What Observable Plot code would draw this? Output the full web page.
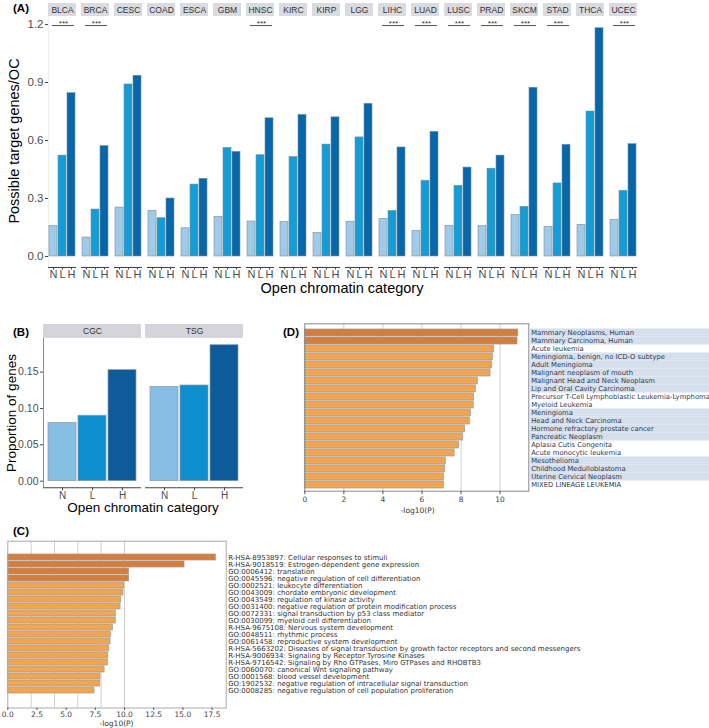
<!DOCTYPE html>
<html><head><meta charset="utf-8">
<script src="https://cdn.jsdelivr.net/npm/d3@7"></script>
<script src="https://cdn.jsdelivr.net/npm/@observablehq/plot@0.6"></script>
<style>
body{margin:0;background:#fff;}
#root{position:relative;width:709px;height:728px;overflow:hidden;background:#fff;font-family:"Liberation Sans",Arial,sans-serif;color:#000;}
.panel{position:absolute;}
.t{position:absolute;white-space:nowrap;transform:translate(-50%,-50%);line-height:1;}
.rot{transform:translate(-50%,-50%) rotate(-90deg);}
.tag{position:absolute;font-weight:bold;font-size:11.5px;line-height:1;white-space:nowrap;}
.mpl{font-family:"DejaVu Sans",sans-serif;font-size:7.5px;color:#333;}
</style></head><body><div id="root"></div>
<script>
// ---------- Panel A data ----------
const cancers = ["BLCA","BRCA","CESC","COAD","ESCA","GBM","HNSC","KIRC","KIRP","LGG","LIHC","LUAD","LUSC","PRAD","SKCM","STAD","THCA","UCEC"];
const categories = ["N","L","H"];
const ratioN = [0.157,0.098,0.253,0.236,0.146,0.205,0.181,0.178,0.122,0.180,0.195,0.133,0.159,0.157,0.214,0.153,0.164,0.190];
const ratioL = [0.522,0.243,0.890,0.198,0.372,0.562,0.524,0.514,0.579,0.616,0.236,0.392,0.366,0.454,0.257,0.378,0.750,0.340];
const ratioH = [0.845,0.571,0.935,0.300,0.402,0.541,0.715,0.733,0.720,0.790,0.564,0.645,0.460,0.522,0.873,0.578,1.181,0.581];
const significant = ["BLCA","BRCA","HNSC","LIHC","LUAD","LUSC","PRAD","SKCM","STAD","UCEC"];
const yTicksA = [0,0.3,0.6,0.9,1.2];

// ---------- Panel B data ----------
const geneSets = ["CGC","TSG"];
const propN = [0.080,0.1298];
const propL = [0.090,0.1316];
const propH = [0.1527,0.187];
const yTicksB = [0,0.05,0.10,0.15];

// ---------- Panel D data ----------
const dTerms = ["Mammary Neoplasms, Human","Mammary Carcinoma, Human","Acute leukemia","Meningioma, benign, no ICD-O subtype","Adult Meningioma","Malignant neoplasm of mouth","Malignant Head and Neck Neoplasm","Lip and Oral Cavity Carcinoma","Precursor T-Cell Lymphoblastic Leukemia-Lymphoma","Myeloid Leukemia","Meningioma","Head and Neck Carcinoma","Hormone refractory prostate cancer","Pancreatic Neoplasm","Aplasia Cutis Congenita","Acute monocytic leukemia","Mesothelioma","Childhood Medulloblastoma","Uterine Cervical Neoplasm","MIXED LINEAGE LEUKEMIA"];
const dLogP = [10.93,10.89,9.70,9.63,9.59,9.51,8.86,8.76,8.67,8.65,8.50,8.45,8.21,8.11,7.90,7.67,7.22,7.19,7.12,7.12];
const dCluster = [1,1,2,3,3,3,3,3,4,4,5,5,5,5,6,6,7,7,7,8];
const dTicks = [0,2,4,6,8,10];

// ---------- Panel C data ----------
const cTerms = ["R-HSA-8953897: Cellular responses to stimuli","R-HSA-9018519: Estrogen-dependent gene expression","GO:0006412: translation","GO:0045596: negative regulation of cell differentiation","GO:0002521: leukocyte differentiation","GO:0043009: chordate embryonic development","GO:0043549: regulation of kinase activity","GO:0031400: negative regulation of protein modification process","GO:0072331: signal transduction by p53 class mediator","GO:0030099: myeloid cell differentiation","R-HSA-9675108: Nervous system development","GO:0048511: rhythmic process","GO:0061458: reproductive system development","R-HSA-5663202: Diseases of signal transduction by growth factor receptors and second messengers","R-HSA-9006934: Signaling by Receptor Tyrosine Kinases","R-HSA-9716542: Signaling by Rho GTPases, Miro GTPases and RHOBTB3","GO:0060070: canonical Wnt signaling pathway","GO:0001568: blood vessel development","GO:1902532: negative regulation of intracellular signal transduction","GO:0008285: negative regulation of cell population proliferation"];
const cLogP = [17.82,15.14,10.40,10.40,9.97,9.91,9.72,9.66,9.25,9.25,9.00,8.83,8.80,8.69,8.60,8.57,8.29,7.94,7.92,7.43];
const cTicks = [0,2.5,5,7.5,10,12.5,15,17.5];

// ---------- build ----------
const root = document.getElementById("root");
function place(node, left, top){ node.classList.add("panel"); node.style.left = left+"px"; node.style.top = top+"px"; root.appendChild(node); }
function label(text, x, y, cls, size){ const d=document.createElement("div"); d.className="t "+(cls||""); d.textContent=text; d.style.left=x+"px"; d.style.top=y+"px"; if(size) d.style.fontSize=size+"px"; root.appendChild(d); }
function tag(text, x, y){ const d=document.createElement("div"); d.className="tag"; d.textContent=text; d.style.left=x+"px"; d.style.top=y+"px"; root.appendChild(d); }
const ggFont = "Liberation Sans, Arial, sans-serif";
const mplFont = "DejaVu Sans, sans-serif";

// Panel A
const tableA = cancers.flatMap((c,i)=>categories.map((k,j)=>({cancer:c, cat:k, value:[ratioN,ratioL,ratioH][j][i]})));
const yDomA = [-0.057, 1.309];
const stripA = [1.2416, 1.309];
const fxBwA = 607/(18-0.147)*(1-0.147);
const plotA = Plot.plot({
  width: 709, height: 300, marginLeft: 39, marginRight: 63, marginTop: 3, marginBottom: 33,
  style: {fontFamily: ggFont, background: "transparent", overflow: "visible"},
  fx: {domain: cancers, paddingInner: 0.147, paddingOuter: 0, axis: null, label: null},
  x: {domain: categories, paddingInner: 0.07, paddingOuter: 0.05, label: null},
  y: {domain: yDomA, label: null},
  color: {domain: categories, range: ["#a0cbe8","#139dd6","#0667aa"]},
  marks: [
    Plot.barY(tableA, {fx: "cancer", x: "cat", y: "value", fill: "cat", stroke: "#7f8d97", strokeWidth: 0.6}),
    Plot.barY(cancers, {fx: d=>d, y1: ()=>stripA[0], y2: ()=>stripA[1], fill: "#d9dbe0"}),
    Plot.text(cancers, {fx: d=>d, y: ()=>(stripA[0]+stripA[1])/2, text: d=>d, fontSize: 8.5, fill: "#333"}),
    Plot.ruleY(significant, {fx: d=>d, y: ()=>1.195, insetLeft: 4, insetRight: 2, stroke: "#555", strokeWidth: 1}),
    Plot.text(significant, {fx: d=>d, y: ()=>1.208, text: ()=>"***", fontSize: 8, fill: "#333", dx: 1}),
    Plot.barY(["BLCA"], {fx: d=>d, y1: ()=>yDomA[0], y2: ()=>stripA[0], fill: "#444", insetRight: fxBwA-1.1}),
    Plot.ruleY([yDomA[0]], {stroke: "#444", strokeWidth: 1.1}),
    Plot.axisY({ticks: yTicksA, tickFormat: d3.format(".1f"), tickSize: 3, tickPadding: 2, fontSize: 11.5, fill: "#4d4d4d", stroke: "#444", label: null}),
    Plot.axisX({tickSize: 2.5, tickPadding: 0.5, fontSize: 11, fill: "#4d4d4d", stroke: "#444", label: null})
  ]
});
place(plotA, 0, 0);
tag("(A)", 13, 3);
label("Open chromatin category", 342, 288, "", 14.5);
label("Possible target genes/OC", 14, 141, "rot", 14.5);

// Panel B
const tableB = geneSets.flatMap((g,i)=>categories.map((k,j)=>({set:g, cat:k, value:[propN,propL,propH][j][i]})));
const yDomB = [-0.0091, 0.2155];
const stripB = [0.1963, 0.2155];
const fxBwB = 201/(2-0.039)*(1-0.039);
const plotB = Plot.plot({
  width: 260, height: 230, marginLeft: 43, marginRight: 16, marginTop: 24, marginBottom: 42.7,
  style: {fontFamily: ggFont, background: "transparent", overflow: "visible"},
  fx: {domain: geneSets, paddingInner: 0.039, paddingOuter: 0, axis: null, label: null},
  x: {domain: categories, paddingInner: 0.066, paddingOuter: 0.156, label: null},
  y: {domain: yDomB, label: null},
  color: {domain: categories, range: ["#86bee4","#0e8fd0","#0d5b9b"]},
  marks: [
    Plot.barY(tableB, {fx: "set", x: "cat", y: "value", fill: "cat", stroke: "#8a9aa6", strokeWidth: 0.7}),
    Plot.barY(geneSets, {fx: d=>d, y1: ()=>stripB[0], y2: ()=>stripB[1], fill: "#d4d5db"}),
    Plot.text(geneSets, {fx: d=>d, y: ()=>(stripB[0]+stripB[1])/2, text: d=>d, fontSize: 8.5, fill: "#333"}),
    Plot.barY(["CGC"], {fx: d=>d, y1: ()=>yDomB[0], y2: ()=>stripB[0], fill: "#444", insetRight: fxBwB-1.1}),
    Plot.ruleY([yDomB[0]], {stroke: "#444", strokeWidth: 1.1}),
    Plot.axisY({ticks: yTicksB, tickFormat: d3.format(".2f"), tickSize: 3, tickPadding: 2, fontSize: 10.5, fill: "#4d4d4d", stroke: "#444", label: null}),
    Plot.axisX({tickSize: 3, tickPadding: 1, fontSize: 10, fill: "#4d4d4d", stroke: "#444", label: null})
  ]
});
place(plotB, 0, 300);
tag("(B)", 13, 327);
label("Open chromatin category", 143, 508, "", 13.5);
label("Proportion of genes", 12, 413, "rot", 13.5);

// Panel D
const tableD = dTerms.map((t,i)=>({term:t, value:dLogP[i], cluster:dCluster[i], rank:i}));
const xMaxD = 11.47;
const plotD = Plot.plot({
  width: 429, height: 220, marginLeft: 24.3, marginRight: 180.7, marginTop: 23.3, marginBottom: 29.3,
  style: {fontFamily: mplFont, background: "transparent", overflow: "visible"},
  x: {domain: [0, xMaxD], label: null},
  y: {domain: dTerms, range: [29, 188.7], paddingInner: 0.12, paddingOuter: 0, axis: null},
  marks: [
    Plot.barX(tableD.filter(d=>d.cluster%2===1), {y: "term", x1: ()=>11.56, x2: ()=>20.8, fill: "#d6e0ec", insetTop: -0.5, insetBottom: -0.5}),
    Plot.ruleX(dTicks.filter(v=>v>0), {stroke: "#c9d0d8", strokeWidth: 1}),
    Plot.barX(tableD, {y: "term", x: "value", fill: d=>d.rank<2 ? "#d67d3c" : "#f1a550", stroke: "#9a9a9a", strokeWidth: 0.7}),
    Plot.frame({stroke: "#888", strokeWidth: 1}),
    Plot.text(tableD, {y: "term", x: ()=>xMaxD, text: "term", dx: 2.4, textAnchor: "start", fontSize: 6.8, fill: "#2a3a4f"}),
    Plot.axisX({ticks: dTicks, tickSize: 3.5, tickPadding: 2, fontSize: 7.5, fill: "#444", stroke: "#555", label: null})
  ]
});
place(plotD, 280, 300);
tag("(D)", 283, 327);
label("-log10(P)", 417.7, 511, "mpl");

// Panel C
const tableC = cTerms.map((t,i)=>({term:t, value:cLogP[i], rank:i}));
const xMaxC = 18.71;
const plotC = Plot.plot({
  width: 709, height: 208, marginLeft: 7.3, marginRight: 483.3, marginTop: 20.7, marginBottom: 20.5,
  style: {fontFamily: mplFont, background: "transparent", overflow: "visible"},
  x: {domain: [0, xMaxC], label: null},
  y: {domain: cTerms, range: [25, 181.7], paddingInner: 0.12, paddingOuter: 0, axis: null},
  marks: [
    Plot.ruleX([2,4,6,8,10], {stroke: "#c9d0d8", strokeWidth: 1}),
    Plot.barX(tableC, {y: "term", x: "value", fill: d=>d.rank<4 ? "#d67d3c" : "#f1a550", stroke: "#9a9a9a", strokeWidth: 0.7}),
    Plot.frame({stroke: "#aaa", strokeWidth: 1}),
    Plot.text(tableC, {y: "term", x: ()=>xMaxC, text: "term", dx: 2, textAnchor: "start", fontSize: 7.0, fill: "#333"}),
    Plot.axisX({ticks: cTicks, tickFormat: d3.format(".1f"), tickSize: 2.5, tickPadding: 1, fontSize: 7.5, fill: "#444", stroke: "#555", label: null})
  ]
});
place(plotC, 0, 520);
tag("(C)", 13, 526);
label("-log10(P)", 116.5, 723.5, "mpl");
</script></body></html>
